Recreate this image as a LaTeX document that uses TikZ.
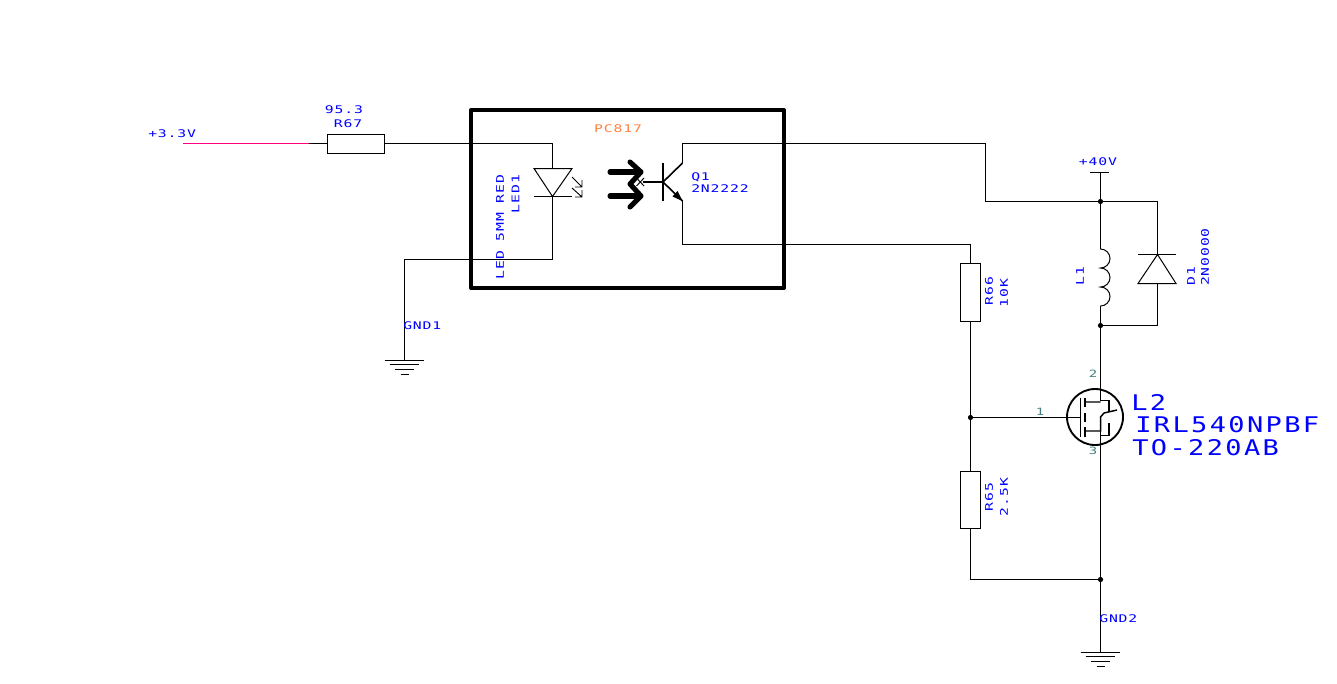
\documentclass[tikz,border=0pt]{standalone}
\usepackage{fontspec}
\newfontfamily\cadfont[FakeStretch=1.4,LetterSpace=8]{DejaVu Sans Mono}
\newfontfamily\bigfont[FakeStretch=1.25,LetterSpace=11]{DejaVu Sans Mono}
\definecolor{cadblue}{RGB}{0,0,255}
\definecolor{cadorange}{RGB}{255,128,64}
\definecolor{cadteal}{RGB}{64,128,128}
\definecolor{cadpink}{RGB}{255,0,128}
\tikzset{
  wire/.style={line width=0.75pt,line join=miter},
  thin wire/.style={line width=0.7pt},
  label/.style={inner sep=0pt,text=cadblue,font=\cadfont\fontsize{7.9pt}{9pt}\selectfont},
  biglabel/.style={inner sep=0pt,anchor=west,text=cadblue,font=\bigfont\fontsize{16.2pt}{17pt}\selectfont},
  pinlabel/.style={inner sep=0pt,text=cadteal,font=\cadfont\fontsize{7.5pt}{8pt}\selectfont},
  resbox/.style={draw,line width=0.75pt,rectangle,inner sep=0pt,fill=white},
  junction/.style={circle,fill=black,inner sep=0pt,minimum size=3.9pt},
  heavy/.style={line width=3.8pt,line cap=round,line join=round},
}
\newcommand{\gndsym}[1]{%
  \draw[wire] ([xshift=-15pt]#1) -- ([xshift=14.25pt]#1);
  \draw[wire] ([xshift=-11.25pt,yshift=-3pt]#1) -- ([xshift=10.5pt,yshift=-3pt]#1);
  \draw[wire] ([xshift=-7.5pt,yshift=-6.75pt]#1) -- ([xshift=6.75pt,yshift=-6.75pt]#1);
  \draw[wire] ([xshift=-3pt,yshift=-10.5pt]#1) -- ([xshift=3pt,yshift=-10.5pt]#1);
}
\begin{document}
\begin{tikzpicture}[x=0.75pt,y=-0.75pt]
\useasboundingbox (0,0) rectangle (1337,683);
\fill[white] (0,0) rectangle (1337,683);

% optocoupler frame
\draw[line width=3pt,line join=round] (471,110) rectangle (784,288);

% named points
\coordinate (vin) at (183,143.5);
\coordinate (vinend) at (308.5,143.5);
\node[resbox,minimum width=42.75pt,minimum height=14.25pt] (R67) at (356,143.5) {};
\coordinate (ledtop) at (552.5,168.5);
\coordinate (ledcorner) at (552.5,143.5);
\coordinate (ledk) at (552.5,196.5);
\coordinate (ledbot) at (552.5,259.5);
\coordinate (gndAcorner) at (404.5,259.5);
\coordinate (gndA) at (404.5,360.5);
\coordinate (qbase) at (663,182);
\coordinate (qc) at (682.5,163);
\coordinate (qe) at (682.5,201);
\coordinate (qctop) at (682.5,143.5);
\coordinate (wa) at (985.5,143.5);
\coordinate (wb) at (985.5,201.5);
\coordinate (qebot) at (682.5,244.5);
\coordinate (wc) at (970.5,244.5);
\node[resbox,minimum width=15pt,minimum height=43.5pt] (R66) at (970.5,292.5) {};
\node[resbox,minimum width=15pt,minimum height=42.75pt] (R65) at (970.5,500) {};
\node[junction] (jg) at (970.5,417.5) {};
\coordinate (wd) at (970.5,579.5);
\node[junction] (js) at (1100.5,579.5) {};
\node[junction] (jtop) at (1100.5,201.5) {};
\node[junction] (jmid) at (1100.5,325.5) {};
\coordinate (vcc) at (1100.5,172.5);
\coordinate (ltop) at (1100.5,249);
\coordinate (lbot) at (1100.5,306);
\coordinate (dtopc) at (1157.5,201.5);
\coordinate (dbar) at (1157.5,254.5);
\coordinate (dbase) at (1157.5,283.5);
\coordinate (dbotc) at (1157.5,325.5);
\coordinate (mtop) at (1100.5,400.5);
\coordinate (mbot) at (1101,435.5);
\coordinate (gndB) at (1100.5,652.5);
\coordinate (mgate) at (1080,417.5);
\coordinate (gatewire) at (1048,417.5);
\node[draw,circle,line width=1.4pt,minimum size=42pt,inner sep=0pt] (M) at (1095,417) {};

% input
\draw[wire,cadpink] (vin) -- (vinend);
\draw[wire] (vinend) -- (R67.west);
\draw[wire] (R67.east) -- (ledcorner) -- (ledtop);

% LED
\draw[wire,line join=miter] (534,168.5) -- (572,168.5) -- (ledk) -- cycle;
\draw[wire] (534,196.5) -- (572,196.5);
\draw[wire] (ledk) -- (ledbot) -- (gndAcorner) -- (gndA);
\gndsym{gndA}
\draw[thin wire] (572,177) -- (582,187) (582,180) -- (582,187) -- (575,187);
\draw[thin wire] (572,188) -- (582,197) (582,190) -- (582,197) -- (575,197);

% light arrows
\draw[heavy] (610,172) -- (640,172) (610,196) -- (640,196);
\draw[heavy] (630,162) -- (641,172) -- (630,184) -- (641,196) -- (630,207);

% transistor
\draw[line width=1.5pt] (663,163) -- (663,201);
\draw[line width=1.3pt] (643,182) -- (qbase);
\draw[thin wire] (636.5,178) -- (644,186) (636.5,186) -- (644,178);
\draw[line width=1.2pt] (qbase) -- (qc);
\draw[line width=1.2pt] (qbase) -- (qe);
\fill (682.5,201) -- (672.5,196.5) -- (677.5,191) -- cycle;
\draw[wire] (qc) -- (qctop) -- (wa) -- (wb) -- (jtop);
\draw[wire] (qe) -- (qebot) -- (wc) -- (R66.north);

% divider
\draw[wire] (R66.south) -- (jg);
\draw[wire] (jg) -- (R65.north);
\draw[wire] (R65.south) -- (wd) -- (js);
\draw[wire] (jg) -- (gatewire) -- (mgate);

% supply, coil and diode
\draw[wire] (1090,172.5) -- (1109,172.5);
\draw[wire] (vcc) -- (jtop) -- (ltop);
\draw[wire] (ltop) arc[start angle=-90,end angle=90,radius=9.5] arc[start angle=-90,end angle=90,radius=9.5] arc[start angle=-90,end angle=90,radius=9.5];
\draw[wire] (lbot) -- (jmid) -- (mtop);
\draw[wire] (jtop) -- (dtopc) -- (dbar);
\draw[wire] (1138,254.5) -- (1176,254.5);
\draw[wire] (dbar) -- (1138,283.5) -- (1176,283.5) -- cycle;
\draw[wire] (dbase) -- (dbotc) -- (jmid);

% MOSFET
\draw[line width=1.3pt] (1080.5,398) -- (1080.5,437);
\draw[line width=1.3pt] (1085,398) -- (1085,407) (1085,413) -- (1085,422) (1085,427) -- (1085,437);
\draw[line width=1.1pt] (1085,402) -- (1100.5,402) (1085,431) -- (1100.5,431) -- (1100.5,417) -- (1104,413) -- (1117,410);
\draw[line width=1.1pt] (mtop) -- (1109,400.5) -- (1109,412);
\draw[line width=1.1pt] (1109,423) -- (1109,435.5) -- (mbot);
\draw[wire] (1100.5,431) -- (1100.5,445) -- (js) -- (gndB);
\gndsym{gndB}

% labels
\node[label,anchor=west] at (148,134) {+3.3V};
\node[label] at (344,110) {95.3};
\node[label] at (348,124) {R67};
\node[inner sep=0pt,text=cadorange,font=\cadfont\fontsize{7.9pt}{9pt}\selectfont] at (618,129) {PC817};
\node[label,rotate=90] at (500,227) {LED 5MM RED};
\node[label,rotate=90] at (515.5,194) {LED1};
\node[label,anchor=west] at (691,177) {Q1};
\node[label,anchor=west] at (691,188.5) {2N2222};
\node[label,anchor=west] at (403,326) {GND1};
\node[label,anchor=west] at (1099,618.5) {GND2};
\node[label] at (1098,162) {+40V};
\node[label,rotate=90] at (1080,276) {L1};
\node[label,rotate=90] at (1191,276) {D1};
\node[label,rotate=90] at (1205,257) {2N0000};
\node[label,rotate=90] at (989,291) {R66};
\node[label,rotate=90] at (1004,293) {10K};
\node[label,rotate=90] at (989,497) {R65};
\node[label,rotate=90] at (1004,497) {2.5K};
\node[biglabel] at (1131,402) {L2};
\node[biglabel] at (1135,425) {IRL540NPBF};
\node[biglabel] at (1132,448) {TO-220AB};
\node[pinlabel] at (1040,412) {1};
\node[pinlabel] at (1093,374) {2};
\node[pinlabel] at (1093,451) {3};
\end{tikzpicture}
\end{document}
